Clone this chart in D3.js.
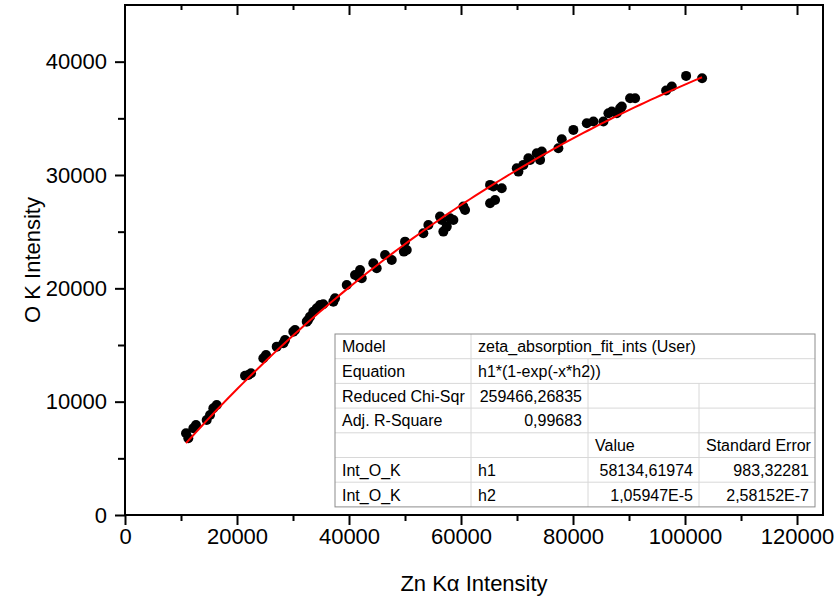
<!DOCTYPE html>
<meta charset="utf-8">
<style>
  body { margin: 0; background: #fff; }
  svg { font-family: "Liberation Sans", Arial, sans-serif; }
  .tick text { font-size: 22px; fill: #000; }
  .tick line { stroke: #000; stroke-width: 2; }
  .cell { font-size: 16px; fill: #000; }
</style>
<svg width="835" height="602"></svg>
<script src="https://d3js.org/d3.v7.min.js"></script>
<script>

  // measured points: Zn K-alpha intensity vs O K intensity
  var znKa = [10895, 11305, 12198, 12680, 14592, 15181, 15770, 16378, 21432, 22022,
    22504, 24700, 25183, 27093, 28278, 28576, 30058, 30362, 32452, 32684,
    33041, 33630, 34237, 34826, 35400, 37202, 37506, 39596, 41078, 41667,
    41971, 42274, 44346, 44947, 46436, 47630, 50008, 50311, 49800, 53277,
    54170, 56259, 56848, 57456, 58045, 58635, 56562, 60723, 60420, 65189,
    65784, 67277, 65189, 66082, 69956, 70250, 71137, 72030, 72333, 73530,
    74120, 74423, 77386, 77990, 80066, 82460, 83645, 85432, 86325, 86922,
    87815, 88405, 88708, 90193, 91086, 96623, 97640, 100195, 103050];
  var oK = [7211, 6770, 7652, 7943, 8385, 8826, 9417, 9709, 12294, 12356,
    12506, 13830, 14122, 14854, 15154, 15446, 16178, 16328, 17060, 17210,
    17502, 17943, 18243, 18535, 18600, 18826, 19126, 20300, 21182, 21032,
    21622, 20891, 22215, 21774, 22948, 22506, 24121, 23389, 23239, 24862,
    25595, 26328, 25004, 25445, 26187, 26037, 26037, 26919, 27211, 29126,
    28978, 28834, 27511, 27802, 30600, 30300, 30891, 31482, 31333, 31924,
    31333, 32065, 32365, 33159, 33980, 34571, 34713, 34713, 35454, 35593,
    35454, 35896, 36034, 36778, 36778, 37449, 37802, 38746, 38541];

  // fit parameters (from the table)
  var h1 = 58134.61974, h2 = 1.05947e-5;

  var xMajor = [0, 20000, 40000, 60000, 80000, 100000, 120000];
  var xMinor = [10000, 30000, 50000, 70000, 90000, 110000];
  var yMajor = [0, 10000, 20000, 30000, 40000];
  var yMinor = [5000, 15000, 25000, 35000];

  var tableRows = [
    ["Model", "zeta_absorption_fit_ints (User)"],
    ["Equation", "h1*(1-exp(-x*h2))", ""],
    ["Reduced Chi-Sqr", "259466,26835", "", ""],
    ["Adj. R-Square", "0,99683", "", ""],
    ["", "", "Value", "Standard Error"],
    ["Int_O_K", "h1", "58134,61974", "983,32281"],
    ["Int_O_K", "h2", "1,05947E-5", "2,58152E-7"]
  ];

  var svg = d3.select("svg"),
    pLeft = 125, pRight = 823, pTop = 5, pBottom = 515;

  var x = d3.scaleLinear().domain([0, 124640]).range([pLeft, pRight]),
    y = d3.scaleLinear().domain([0, 45000]).range([pBottom, pTop]);

  function noDomain(g) { g.select(".domain").remove(); }

  // bottom axis
  svg.append("g")
    .attr("transform", "translate(0," + pBottom + ")")
    .call(d3.axisBottom(x).tickValues(xMinor).tickSize(6).tickFormat(""))
    .call(noDomain);
  svg.append("g")
    .attr("transform", "translate(0," + pBottom + ")")
    .call(d3.axisBottom(x).tickValues(xMajor).tickSize(10).tickPadding(3).tickFormat(d3.format("d")))
    .call(noDomain);

  // left axis
  svg.append("g")
    .attr("transform", "translate(" + pLeft + ",0)")
    .call(d3.axisLeft(y).tickValues(yMinor).tickSize(7).tickFormat(""))
    .call(noDomain);
  svg.append("g")
    .attr("transform", "translate(" + pLeft + ",0)")
    .call(d3.axisLeft(y).tickValues(yMajor).tickSize(10).tickPadding(8).tickFormat(d3.format("d")))
    .call(noDomain);

  // top axis, ticks pointing inward
  svg.append("g")
    .attr("transform", "translate(0," + pTop + ")")
    .call(d3.axisBottom(x).tickValues(xMinor).tickSize(5).tickFormat(""))
    .call(noDomain);
  svg.append("g")
    .attr("transform", "translate(0," + pTop + ")")
    .call(d3.axisBottom(x).tickValues(xMajor.filter(function(d) { return d > 0; })).tickSize(10).tickFormat(""))
    .call(noDomain);

  // frame
  svg.append("rect")
    .attr("x", pLeft).attr("y", pTop)
    .attr("width", pRight - pLeft).attr("height", pBottom - pTop)
    .attr("fill", "none").attr("stroke", "#000").attr("stroke-width", 2);

  // points
  var pts = znKa.map(function(d, i) { return [d, oK[i]]; });
  svg.append("g").selectAll("circle")
    .data(pts)
    .enter().append("circle")
    .attr("cx", function(d) { return x(d[0]); })
    .attr("cy", function(d) { return y(d[1]); })
    .attr("r", 5)
    .attr("fill", "#000");

  // fit curve
  var x0 = d3.min(znKa), x1 = d3.max(znKa);
  var fit = d3.range(0, 101).map(function(i) {
    var xv = x0 + (x1 - x0) * i / 100;
    return [xv, h1 * (1 - Math.exp(-xv * h2))];
  });
  svg.append("path")
    .datum(fit)
    .attr("fill", "none")
    .attr("stroke", "#ff0000")
    .attr("stroke-width", 2)
    .attr("d", d3.line().x(function(d) { return x(d[0]); }).y(function(d) { return y(d[1]); }));

  // axis titles
  svg.append("text")
    .attr("transform", "translate(40,260) rotate(-90)")
    .attr("text-anchor", "middle")
    .style("font-size", "22px")
    .text("O K Intensity");

  svg.append("text")
    .attr("x", (pLeft + pRight) / 2).attr("y", 591)
    .attr("text-anchor", "middle")
    .style("font-size", "22px")
    .text("Zn K\u03b1 Intensity");

  // fit results table
  var colX = [335, 471, 588, 699, 815],
    rowH = 24.7, tTop = 334;
  var tbl = svg.append("g");
  tbl.append("rect")
    .attr("x", colX[0]).attr("y", tTop)
    .attr("width", colX[4] - colX[0]).attr("height", rowH * tableRows.length)
    .attr("fill", "#fff");

  tableRows.forEach(function(row, r) {
    var yTop = tTop + r * rowH;
    if (r > 0) {
      tbl.append("line")
        .attr("x1", colX[0]).attr("x2", colX[4])
        .attr("y1", yTop).attr("y2", yTop)
        .attr("stroke", "#d8d8d8");
    }
    // vertical dividers for the cells in this row
    for (var c = 1; c < row.length; c++) {
      tbl.append("line")
        .attr("x1", colX[c]).attr("x2", colX[c])
        .attr("y1", yTop).attr("y2", yTop + rowH)
        .attr("stroke", "#d8d8d8");
    }
    row.forEach(function(txt, c) {
      if (!txt) return;
      var numeric = /^[0-9]/.test(txt) && r !== 1;
      tbl.append("text")
        .attr("class", "cell")
        .attr("x", numeric ? colX[c + 1] - 6 : colX[c] + 7)
        .attr("y", yTop + rowH / 2 + 6)
        .attr("text-anchor", numeric ? "end" : "start")
        .text(txt);
    });
  });

  tbl.append("rect")
    .attr("x", colX[0]).attr("y", tTop)
    .attr("width", colX[4] - colX[0]).attr("height", rowH * tableRows.length)
    .attr("fill", "none").attr("stroke", "#8c8c8c");

</script>
